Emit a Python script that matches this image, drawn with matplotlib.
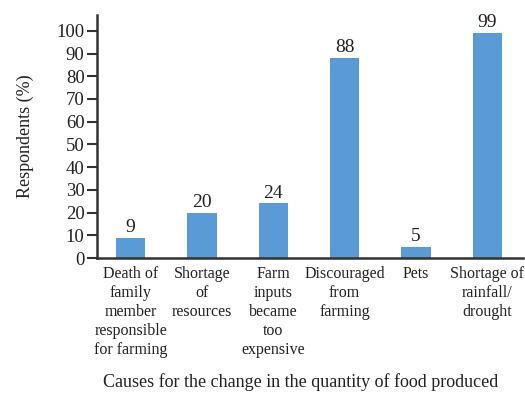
import matplotlib
matplotlib.use("Agg")
import matplotlib.pyplot as plt

categories = ["Death of\nfamily\nmember\nresponsible\nfor farming",
              "Shortage\nof\nresources",
              "Farm\ninputs\nbecame\ntoo\nexpensive",
              "Discouraged\nfrom\nfarming",
              "Pets",
              "Shortage of\nrainfall/\ndrought"]
values = [9, 20, 24, 88, 5, 99]
yticks = list(range(0, 101, 10))

plt.rcParams['font.family'] = ['Liberation Serif', 'DejaVu Serif']
fig = plt.figure(figsize=(5.25, 3.93), dpi=100)
ax = fig.add_axes([0.185, 0.3435, 0.811, 0.6185])

x = list(range(len(categories)))
bars = ax.bar(x, values, width=0.41, color='#5B9BD5')
for xi, v in zip(x, values):
    ax.text(xi, v + 0.8, str(v), ha='center', va='bottom', fontsize=14, color='#222222')

ax.set_xlim(-0.47, 5.5)
ax.set_ylim(0, 107)
ax.set_yticks(yticks)
ax.set_yticklabels([str(t) for t in yticks], fontsize=13.5, color='#222222')
ax.set_xticks(x)
ax.set_xticklabels(categories, fontsize=11.5, color='#222222', linespacing=1.25)
ax.tick_params(axis='x', length=0, pad=6)
ax.tick_params(axis='y', length=7, width=1.5, color='#333333', pad=2)
for s in ['top', 'right']:
    ax.spines[s].set_visible(False)
for s in ['left', 'bottom']:
    ax.spines[s].set_linewidth(1.8)
    ax.spines[s].set_color('#333333')

ax.set_ylabel("Respondents (%)", fontsize=13, color='#222222', labelpad=16)
fig.text(0.572, 0.028, "Causes for the change in the quantity of food produced",
         ha='center', va='center', fontsize=13, color='#222222')

fig.savefig("out.png", dpi=100)
